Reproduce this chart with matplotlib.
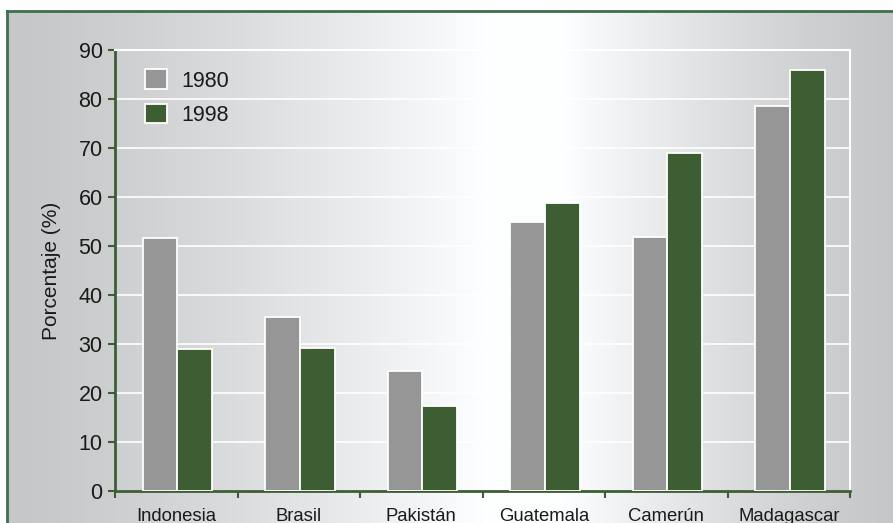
import numpy as np
import matplotlib
matplotlib.use("Agg")
import matplotlib.pyplot as plt
from matplotlib.lines import Line2D
from matplotlib.ticker import FixedLocator, NullFormatter

plt.rcParams['font.family'] = ['Liberation Sans', 'DejaVu Sans']

# datos
paises = ['Indonesia', 'Brasil', 'Pakistán', 'Guatemala', 'Camerún', 'Madagascar']
v1980 = [51.6, 35.6, 24.5, 54.8, 51.8, 78.6]
v1998 = [28.9, 29.1, 17.3, 58.7, 68.9, 85.9]
series = ['1980', '1998']
yticks = [0, 10, 20, 30, 40, 50, 60, 70, 80, 90]

gris = '#969696'
verde = '#3d5e33'
borde = '#3e6e4c'
texto = '#1a1a1a'

W, H = 893, 523
fig = plt.figure(figsize=(W / 100, H / 100), dpi=100)
fig.patch.set_facecolor('white')

# fondo degradado (gris en los bordes, blanco en el centro)
bg = fig.add_axes([7 / W, 0, 1 - 7 / W, 1 - 11 / H], zorder=-10)
xs = np.linspace(7, W, 600)
lo, hi = 0.78, 1.0
t = np.where(xs < 490, (xs - 7) / (490 - 7), 1 - (xs - 560) / (W - 560))
t = np.clip(np.where((xs >= 490) & (xs <= 560), 1.0, t), 0, 1)
g = lo + (hi - lo) * t ** 1.3
img = np.dstack([g * 0.995, g * 1.0, g * 1.005]).clip(0, 1)
bg.imshow(img, aspect='auto', extent=[0, 1, 0, 1])
bg.set_axis_off()

# marco verde
fig.add_artist(Line2D([7 / W, 1], [1 - 11 / H, 1 - 11 / H], color=borde, lw=2, transform=fig.transFigure))
fig.add_artist(Line2D([7 / W, 7 / W], [0, 1 - 11 / H], color=borde, lw=2, transform=fig.transFigure))

ax = fig.add_axes([115 / W, 1 - 491 / H, (850 - 115) / W, (491 - 50) / H])
ax.patch.set_alpha(0)

x = np.arange(len(paises))
w = 0.285
ax.bar(x - w / 2 + 0.01, v1980, w, color=gris, edgecolor='white', linewidth=1.3, label=series[0], zorder=3)
ax.bar(x + w / 2 + 0.01, v1998, w, color=verde, edgecolor='white', linewidth=1.3, label=series[1], zorder=3)

ax.set_xlim(-0.5, len(paises) - 0.5)
ax.set_ylim(0, 90)
ax.set_yticks(yticks)
ax.yaxis.grid(True, color='white', linewidth=1.2, zorder=0)
ax.set_axisbelow(True)

ax.set_xticks(x)
ax.set_xticklabels(paises, fontsize=13.3, color=texto)
ax.tick_params(axis='x', which='major', length=0, pad=12)
ax.xaxis.set_minor_locator(FixedLocator(np.arange(-0.5, len(paises), 1.0)))
ax.xaxis.set_minor_formatter(NullFormatter())
ax.tick_params(axis='x', which='minor', length=5, width=1.5, color=verde, direction='out')
ax.tick_params(axis='y', length=5, width=1.5, color=verde, direction='out',
               labelsize=15.5, labelcolor=texto, pad=4)

for s in ['left', 'bottom']:
    ax.spines[s].set_color(verde)
    ax.spines[s].set_linewidth(2)
for s in ['top', 'right']:
    ax.spines[s].set_color('white')
    ax.spines[s].set_linewidth(1.5)

ax.set_ylabel('Porcentaje (%)', fontsize=15, color=texto)
ax.yaxis.set_label_coords(-0.074, 0.5)

leg = ax.legend(loc='upper left', bbox_to_anchor=(0.041, 0.956), frameon=False,
                borderpad=0, borderaxespad=0,
                fontsize=15.5, handlelength=1.02, handleheight=1.02,
                labelspacing=0.56, handletextpad=0.65)
for t_ in leg.get_texts():
    t_.set_color(texto)

fig.savefig('out.png', dpi=100)
